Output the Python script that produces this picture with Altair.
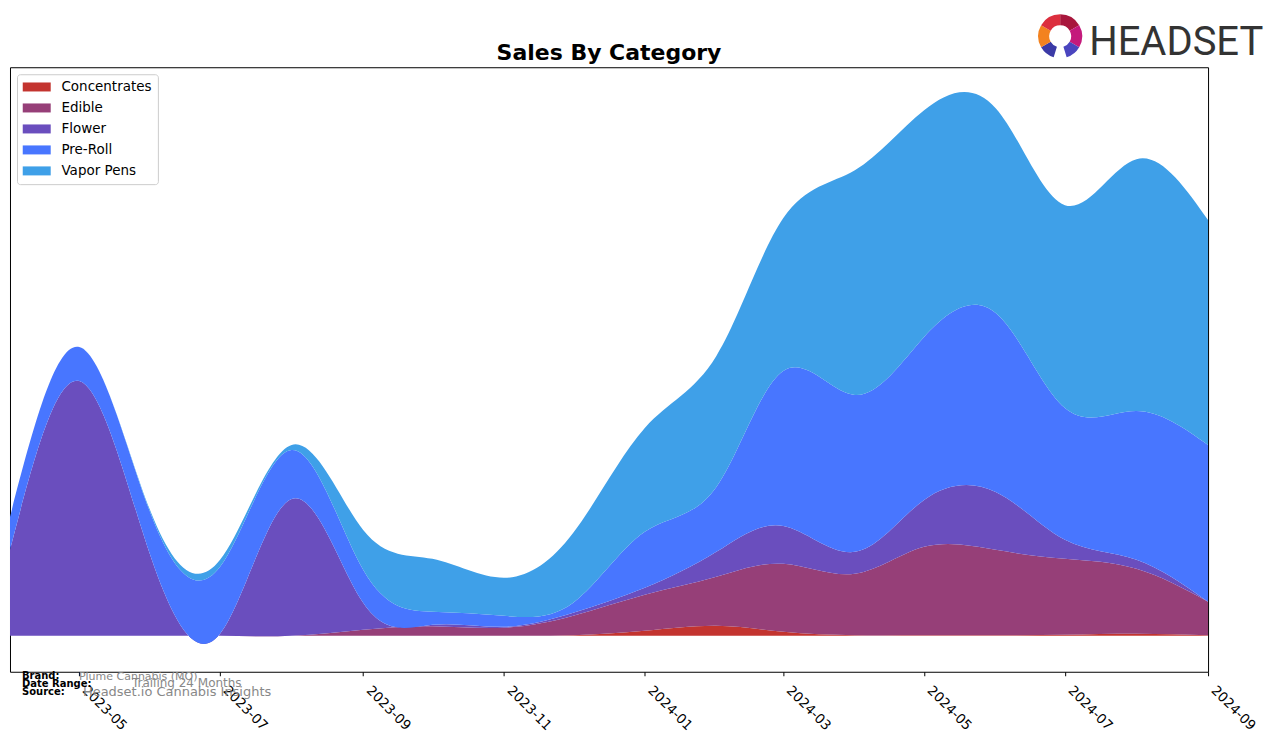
import math
import altair as alt
import pandas as pd

# ---- data ----
months = [
    "2023-04-01", "2023-05-01", "2023-06-01", "2023-07-01", "2023-08-01", "2023-09-01",
    "2023-10-01", "2023-11-01", "2023-12-01", "2024-01-01", "2024-02-01", "2024-03-01",
    "2024-04-01", "2024-05-01", "2024-06-01", "2024-07-01", "2024-08-01", "2024-09-01",
]
categories = ["Concentrates", "Edible", "Flower", "Pre-Roll", "Vapor Pens"]
concentrates = [0, 0, 0, 0, 0, 0, 0, 0, 0.5, 5, 10, 4, 0.5, 0.5, 0.5, 1, 2, 0.5]
edible = [0, 0, 0, 0, 0, 6, 9.5, 8, 19.5, 36, 49, 68, 61.5, 88.5, 85.5, 76, 65, 33.5]
flower = [86, 255, 79, 2, 137, 27, 1.5, 1, 3, 7, 25, 38, 22, 47, 58, 19, 9, 0]
pre_roll = [33, 34, 43, 67, 49, 33, 13, 11, 10, 56, 65, 155, 157, 163, 179, 132, 149, 157]
vapor_pens = [0, 0, 2, 7, 5, 40, 53, 38, 70, 104, 131, 153, 225, 227, 205, 203, 252, 225]
tick_months = ["2023-05", "2023-07", "2023-09", "2023-11", "2024-01", "2024-03",
               "2024-05", "2024-07", "2024-09"]

colors = ["#C3342F", "#963F78", "#6A4EBE", "#4876FF", "#3FA0E8"]
series = [concentrates, edible, flower, pre_roll, vapor_pens]

rows = []
for ci, (cat, vals) in enumerate(zip(categories, series)):
    for m, v in zip(months, vals):
        rows.append({"month": m, "category": cat, "value": v, "order": ci})
df = pd.DataFrame(rows)


def utc_dt(s):
    y, mo = s.split("-")[:2]
    return alt.DateTime(year=int(y), month=int(mo), date=1, utc=True)


x_enc = alt.X(
    "month:T",
    title=None,
    scale=alt.Scale(type="utc", domain=[utc_dt("2023-04"), utc_dt("2024-09")]),
    axis=alt.Axis(
        values=[utc_dt(t) for t in tick_months],
        labelExpr="utcFormat(datum.value, '%Y-%m')",
        labelAngle=45,
        labelAlign="left",
        labelBaseline="alphabetic",
        labelPadding=15,
        labelOffset=2,
        labelFont="DejaVu Sans",
        labelFontSize=13.5,
        labelColor="black",
        tickColor="black",
        tickSize=4,
        domain=False,
        grid=False,
        labelOverlap=False,
        labelBound=False,
        labelFlush=False,
    ),
)

area = alt.Chart(df).mark_area(interpolate="natural", clip=True).encode(
    x=x_enc,
    y=alt.Y("value:Q", stack="zero", axis=None,
            scale=alt.Scale(domain=[-36, 569], nice=False, zero=False)),
    color=alt.Color(
        "category:N",
        scale=alt.Scale(domain=categories, range=colors),
        legend=alt.Legend(
            title=None,
            orient="top-left",
            offset=7,
            symbolType="M-1.4,-0.9H4.2V0.9H-1.4Z",
            symbolSize=100,
            symbolStrokeWidth=0,
            symbolOpacity=1,
            labelFont="DejaVu Sans",
            labelFontSize=13.5,
            labelColor="black",
            labelOffset=25,
            rowPadding=6,
            padding=6,
            fillColor="white",
            strokeColor="#cccccc",
            cornerRadius=3,
        ),
    ),
    order=alt.Order("order:Q", sort="ascending"),
)


def label(text, px, py, size, weight="normal", color="black", font="DejaVu Sans",
          align="left"):
    return alt.Chart(pd.DataFrame({"t": [text]})).mark_text(
        align=align, baseline="alphabetic", font=font, fontSize=size,
        fontWeight=weight, color=color,
    ).encode(x=alt.value(px), y=alt.value(py), text="t:N")


title = label("Sales By Category", 599.5, -7, 22, "bold", align="center")

meta = [
    label("Brand:", 12, 612, 10, "bold"),
    label("Date Range:", 12, 620, 10, "bold"),
    label("Source:", 12, 628, 10, "bold"),
    label("Plume Cannabis (MO)", 69, 613, 11, color="#888888"),
    label("Trailing 24 Months", 122, 620, 12, color="#888888"),
    label("Headset.io Cannabis Insights", 73, 629, 13, color="#888888"),
]

logo_text = label("HEADSET", 1080, -12, 40, color="#333333", font="Roboto")

arc_parts = [
    (0.0, math.pi / 3, "#A8173D"),
    (math.pi / 3, 2 * math.pi / 3, "#C41A7C"),
    (2 * math.pi / 3, math.pi - 0.3, "#4A45BF"),
    (math.pi + 0.3, 4 * math.pi / 3, "#3B3AA6"),
    (4 * math.pi / 3, 5 * math.pi / 3, "#F3821F"),
    (5 * math.pi / 3, 2 * math.pi, "#DC2E3E"),
]
logo_arcs = [
    alt.Chart(pd.DataFrame({"t": [0]})).mark_arc(
        theta=a, theta2=b, radius=22, radius2=11, color=c
    ).encode(x=alt.value(1051), y=alt.value(-31))
    for a, b, c in arc_parts
]

chart = alt.layer(area, title, *meta, logo_text, *logo_arcs).properties(
    width=1199,
    height=605,
    padding={"left": 2, "top": 59, "right": 60, "bottom": 66},
    autosize=alt.AutoSizeParams(type="none"),
).configure_view(stroke="black", strokeWidth=1)

chart.save("out.html", embed_options={"renderer": "svg", "actions": False})
